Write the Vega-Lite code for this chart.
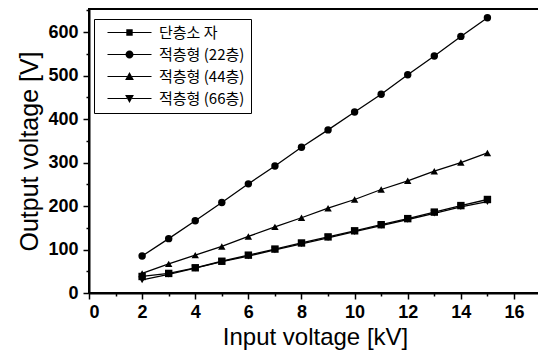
{
  "$schema": "https://vega.github.io/schema/vega-lite/v6.json",
  "width": 455,
  "height": 284,
  "autosize": {"type": "none"},
  "padding": {"left": 89, "top": 9, "right": 0, "bottom": 60},
  "background": "white",
  "config": {
    "view": {"stroke": "black", "strokeWidth": 2},
    "font": "Liberation Sans"
  },
  "resolve": {"scale": {"shape": "independent"}, "legend": {"shape": "independent"}},
  "datasets": {
    "pts": [
      {"x": 2, "y": 38, "series": "단층소 자", "marker": "square"},
      {"x": 3, "y": 45, "series": "단층소 자", "marker": "square"},
      {"x": 4, "y": 58, "series": "단층소 자", "marker": "square"},
      {"x": 5, "y": 73, "series": "단층소 자", "marker": "square"},
      {"x": 6, "y": 87, "series": "단층소 자", "marker": "square"},
      {"x": 7, "y": 101, "series": "단층소 자", "marker": "square"},
      {"x": 8, "y": 115, "series": "단층소 자", "marker": "square"},
      {"x": 9, "y": 129, "series": "단층소 자", "marker": "square"},
      {"x": 10, "y": 143, "series": "단층소 자", "marker": "square"},
      {"x": 11, "y": 157, "series": "단층소 자", "marker": "square"},
      {"x": 12, "y": 171, "series": "단층소 자", "marker": "square"},
      {"x": 13, "y": 186, "series": "단층소 자", "marker": "square"},
      {"x": 14, "y": 201, "series": "단층소 자", "marker": "square"},
      {"x": 15, "y": 215, "series": "단층소 자", "marker": "square"},
      {"x": 2, "y": 85, "series": "적층형 (22층)", "marker": "circle"},
      {"x": 3, "y": 125, "series": "적층형 (22층)", "marker": "circle"},
      {"x": 4, "y": 166, "series": "적층형 (22층)", "marker": "circle"},
      {"x": 5, "y": 208, "series": "적층형 (22층)", "marker": "circle"},
      {"x": 6, "y": 251, "series": "적층형 (22층)", "marker": "circle"},
      {"x": 7, "y": 292, "series": "적층형 (22층)", "marker": "circle"},
      {"x": 8, "y": 335, "series": "적층형 (22층)", "marker": "circle"},
      {"x": 9, "y": 375, "series": "적층형 (22층)", "marker": "circle"},
      {"x": 10, "y": 416, "series": "적층형 (22층)", "marker": "circle"},
      {"x": 11, "y": 457, "series": "적층형 (22층)", "marker": "circle"},
      {"x": 12, "y": 502, "series": "적층형 (22층)", "marker": "circle"},
      {"x": 13, "y": 545, "series": "적층형 (22층)", "marker": "circle"},
      {"x": 14, "y": 590, "series": "적층형 (22층)", "marker": "circle"},
      {"x": 15, "y": 633, "series": "적층형 (22층)", "marker": "circle"},
      {"x": 2, "y": 45, "series": "적층형 (44층)", "marker": "triangle-up"},
      {"x": 3, "y": 67, "series": "적층형 (44층)", "marker": "triangle-up"},
      {"x": 4, "y": 87, "series": "적층형 (44층)", "marker": "triangle-up"},
      {"x": 5, "y": 107, "series": "적층형 (44층)", "marker": "triangle-up"},
      {"x": 6, "y": 130, "series": "적층형 (44층)", "marker": "triangle-up"},
      {"x": 7, "y": 152, "series": "적층형 (44층)", "marker": "triangle-up"},
      {"x": 8, "y": 173, "series": "적층형 (44층)", "marker": "triangle-up"},
      {"x": 9, "y": 195, "series": "적층형 (44층)", "marker": "triangle-up"},
      {"x": 10, "y": 215, "series": "적층형 (44층)", "marker": "triangle-up"},
      {"x": 11, "y": 238, "series": "적층형 (44층)", "marker": "triangle-up"},
      {"x": 12, "y": 258, "series": "적층형 (44층)", "marker": "triangle-up"},
      {"x": 13, "y": 280, "series": "적층형 (44층)", "marker": "triangle-up"},
      {"x": 14, "y": 300, "series": "적층형 (44층)", "marker": "triangle-up"},
      {"x": 15, "y": 322, "series": "적층형 (44층)", "marker": "triangle-up"},
      {"x": 2, "y": 30, "series": "적층형 (66층)", "marker": "triangle-down"},
      {"x": 3, "y": 43, "series": "적층형 (66층)", "marker": "triangle-down"},
      {"x": 4, "y": 57, "series": "적층형 (66층)", "marker": "triangle-down"},
      {"x": 5, "y": 72, "series": "적층형 (66층)", "marker": "triangle-down"},
      {"x": 6, "y": 85, "series": "적층형 (66층)", "marker": "triangle-down"},
      {"x": 7, "y": 99, "series": "적층형 (66층)", "marker": "triangle-down"},
      {"x": 8, "y": 113, "series": "적층형 (66층)", "marker": "triangle-down"},
      {"x": 9, "y": 127, "series": "적층형 (66층)", "marker": "triangle-down"},
      {"x": 10, "y": 141, "series": "적층형 (66층)", "marker": "triangle-down"},
      {"x": 11, "y": 155, "series": "적층형 (66층)", "marker": "triangle-down"},
      {"x": 12, "y": 169, "series": "적층형 (66층)", "marker": "triangle-down"},
      {"x": 13, "y": 183, "series": "적층형 (66층)", "marker": "triangle-down"},
      {"x": 14, "y": 198, "series": "적층형 (66층)", "marker": "triangle-down"},
      {"x": 15, "y": 210, "series": "적층형 (66층)", "marker": "triangle-down"}
    ]
  },
  "data": {"name": "pts"},
  "encoding": {
    "x": {
      "field": "x", "type": "quantitative",
      "scale": {"domain": [0, 17.13], "nice": false, "zero": false},
      "axis": {
        "title": "Input voltage [kV]",
        "titleX": 226,
        "values": [0,1,2,3,4,5,6,7,8,9,10,11,12,13,14,15,16],
        "labelExpr": "datum.value % 2 == 0 ? datum.label : ''",
        "tickSize": {"condition": {"test": "datum.value % 2 == 0", "value": 6}, "value": 3},
        "grid": false, "domainColor": "black", "domainWidth": 2,
        "tickColor": "black", "tickWidth": 1.5,
        "labelFont": "Liberation Sans", "labelFontWeight": "bold", "labelFontSize": 18, "labelColor": "black",
        "labelPadding": 4,
        "titleFont": "Liberation Sans", "titleFontWeight": "normal", "titleFontSize": 24, "titleColor": "black",
        "titlePadding": 4
      }
    },
    "y": {
      "field": "y", "type": "quantitative",
      "scale": {"domain": [0, 653], "nice": false},
      "axis": {
        "title": "Output voltage [V]",
        "values": [0,50,100,150,200,250,300,350,400,450,500,550,600,650],
        "labelExpr": "datum.value % 100 == 0 ? datum.label : ''",
        "tickSize": {"condition": {"test": "datum.value % 100 == 0", "value": 6}, "value": 3},
        "grid": false, "domainColor": "black", "domainWidth": 2,
        "tickColor": "black", "tickWidth": 1.5,
        "labelFont": "Liberation Sans", "labelFontWeight": "bold", "labelFontSize": 18, "labelColor": "black",
        "labelPadding": 5,
        "titleFont": "Liberation Sans", "titleFontWeight": "normal", "titleFontSize": 25, "titleColor": "black",
        "titlePadding": 5
      }
    }
  },
  "layer": [
    {
      "mark": {"type": "line", "color": "black", "strokeWidth": 1.3},
      "encoding": {"detail": {"field": "series"}}
    },
    {
      "mark": {"type": "point", "filled": true, "color": "black", "opacity": 1, "size": 55},
      "encoding": {"shape": {"field": "marker", "type": "nominal", "scale": null, "legend": null}}
    },
    {
      "mark": {"type": "point", "filled": true, "color": "black", "opacity": 0},
      "encoding": {
        "shape": {
          "field": "series", "type": "nominal",
          "scale": {
            "domain": ["단층소 자", "적층형 (22층)", "적층형 (44층)", "적층형 (66층)"],
            "range": [
              "M-5.5,-0.15H-0.7V0.15H-5.5ZM0.7,-0.15H5.5V0.15H0.7ZM-0.8,-0.8H0.8V0.8H-0.8Z",
              "M-5.5,-0.15H-0.9V0.15H-5.5ZM0.9,-0.15H5.5V0.15H0.9ZM1,0A1,1,0,1,1,-1,0A1,1,0,1,1,1,0Z",
              "M-5.5,-0.15H-0.6V0.15H-5.5ZM0.6,-0.15H5.5V0.15H0.6ZM0,-1.1L1.1,0.9H-1.1Z",
              "M-5.5,-0.15H-0.6V0.15H-5.5ZM0.6,-0.15H5.5V0.15H0.6ZM0,1.1L1.1,-0.9H-1.1Z"
            ]
          },
          "legend": {
            "title": null,
            "orient": "none",
            "legendX": 5,
            "legendY": 10,
            "direction": "vertical",
            "strokeColor": "black",
            "fillColor": "white",
            "padding": 6,
            "symbolSize": 64,
            "symbolOffset": 22,
            "labelOffset": 22,
            "labelFont": "Noto Sans CJK KR",
            "labelFontSize": 15,
            "labelColor": "black",
            "rowPadding": 6,
            "labelLimit": 200,
            "encode": {
              "symbols": {
                "update": {
                  "fill": {"value": "black"},
                  "stroke": {"value": "black"},
                  "strokeWidth": {"value": 0.5},
                  "opacity": {"value": 1},
                  "fillOpacity": {"value": 1},
                  "strokeOpacity": {"value": 1}
                }
              }
            }
          }
        }
      }
    }
  ]
}
